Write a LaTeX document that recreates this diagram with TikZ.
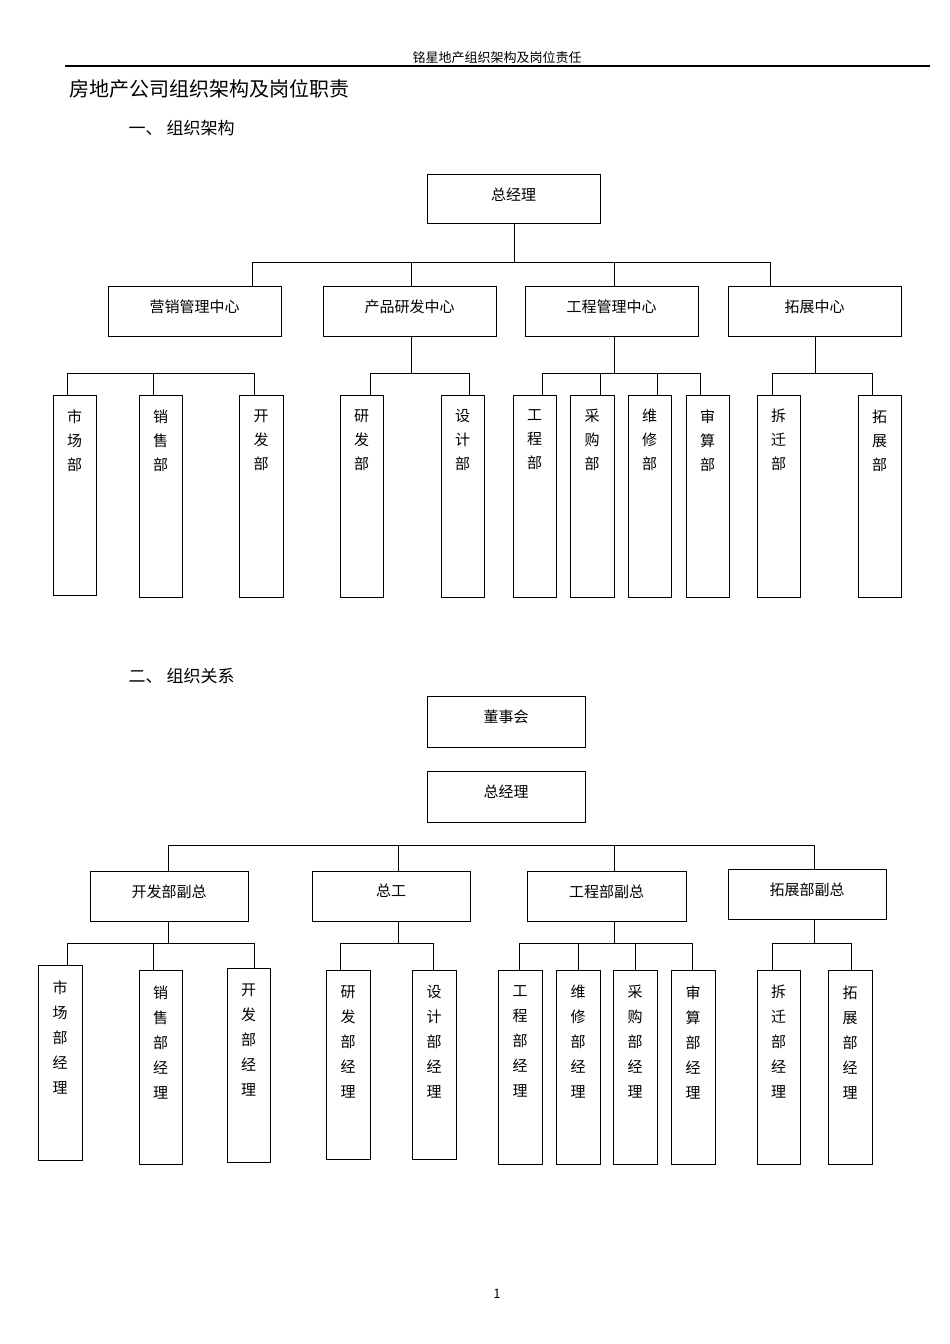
\documentclass[tikz,border=0pt]{standalone}
\usepackage{fontspec}
\setmainfont{Noto Sans CJK SC}
\begin{document}
\begin{tikzpicture}[x=1pt,y=-1pt,line width=0.8pt,
  bx/.style={draw,inner sep=0,outer sep=0},
  lab/.style={anchor=north,align=center,inner sep=0,font=\fontsize{15}{24}\selectfont},
  labb/.style={anchor=north,align=center,inner sep=0,font=\fontsize{15}{25}\selectfont}]
\useasboundingbox (0,0) rectangle (950,1344);
\newcommand\tb[8]{\node[bx,minimum width={(#3-#2)*1pt},minimum height={(#5-#4)*1pt}] (#1) at ({(#2+#3)/2},{(#4+#5)/2}) {};
  \node[#7] (#1t) at ({(#2+#3)/2},{#4+#6}) {#8};}
% header
\node[font=\fontsize{13}{13}\selectfont] (hd) at (497,58) {铭星地产组织架构及岗位责任};
\draw[line width=1.2pt] (65,66) -- (930,66);
\node[anchor=west,font=\fontsize{20}{20}\selectfont] (ttl) at (66,89) {房地产公司组织架构及岗位职责};
\node[anchor=west,font=\fontsize{17}{17}\selectfont] (s1) at (125,128) {一、 组织架构};
\node[anchor=west,font=\fontsize{17}{17}\selectfont] (s2) at (125,676) {二、 组织关系};
\node[font=\fontsize{13}{13}\selectfont] (pg) at (497,1294) {1};
% section 1
\tb{gm}{427}{600}{174}{223}{13}{lab}{总经理}
\tb{c1}{108}{281}{286}{336}{13}{lab}{营销管理中心}
\tb{c2}{323}{496}{286}{336}{13}{lab}{产品研发中心}
\tb{c3}{525}{698}{286}{336}{13}{lab}{工程管理中心}
\tb{c4}{728}{901}{286}{336}{13}{lab}{拓展中心}
\draw (gm.south -| 514,0) -- (514,262);
\draw (252,262) -- (770,262);
\foreach \n/\x in {c1/252,c2/411,c3/614,c4/770} \draw (\x,262) -- (\n.north -| \x,0);
\tb{d1}{53}{96}{395}{595}{14}{lab}{市\\场\\部}
\tb{d2}{139}{182}{395}{597}{14}{lab}{销\\售\\部}
\tb{d3}{239}{283}{395}{597}{14}{lab}{开\\发\\部}
\tb{d4}{340}{383}{395}{597}{14}{lab}{研\\发\\部}
\tb{d5}{441}{484}{395}{597}{14}{lab}{设\\计\\部}
\tb{d6}{513}{556}{395}{597}{14}{lab}{工\\程\\部}
\tb{d7}{570}{614}{395}{597}{14}{lab}{采\\购\\部}
\tb{d8}{628}{671}{395}{597}{14}{lab}{维\\修\\部}
\tb{d9}{686}{729}{395}{597}{14}{lab}{审\\算\\部}
\tb{d10}{757}{800}{395}{597}{14}{lab}{拆\\迁\\部}
\tb{d11}{858}{901}{395}{597}{14}{lab}{拓\\展\\部}
\draw (67,373) -- (254,373);
\draw (370,373) -- (469,373);
\draw (542,373) -- (700,373);
\draw (772,373) -- (872,373);
\draw (c2.south -| 411,0) -- (411,373);
\draw (c3.south -| 614,0) -- (614,373);
\draw (c4.south -| 815,0) -- (815,373);
\foreach \n/\x in {d1/67,d2/153,d3/254,d4/370,d5/469,d6/542,d7/600,d8/657,d9/700,d10/772,d11/872}
  \draw (\x,373) -- (\n.north -| \x,0);
% section 2
\tb{bd}{427}{585}{696}{747}{13}{lab}{董事会}
\tb{gm2}{427}{585}{771}{822}{13}{lab}{总经理}
\tb{v1}{90}{248}{871}{921}{13}{lab}{开发部副总}
\tb{v2}{312}{470}{871}{921}{13}{lab}{总工}
\tb{v3}{527}{686}{871}{921}{13}{lab}{工程部副总}
\tb{v4}{728}{886}{869}{919}{13}{lab}{拓展部副总}
\draw (168,845) -- (814,845);
\foreach \n/\x in {v1/168,v2/398,v3/614,v4/814} {\draw (\x,845) -- (\n.north -| \x,0); \draw (\n.south -| \x,0) -- (\x,943);}
\tb{m1}{38}{82}{965}{1160}{15}{labb}{市\\场\\部\\经\\理}
\tb{m2}{139}{182}{970}{1164}{15}{labb}{销\\售\\部\\经\\理}
\tb{m3}{227}{270}{968}{1162}{15}{labb}{开\\发\\部\\经\\理}
\tb{m4}{326}{370}{970}{1159}{15}{labb}{研\\发\\部\\经\\理}
\tb{m5}{412}{456}{970}{1159}{15}{labb}{设\\计\\部\\经\\理}
\tb{m6}{498}{542}{970}{1164}{15}{labb}{工\\程\\部\\经\\理}
\tb{m7}{556}{600}{970}{1164}{15}{labb}{维\\修\\部\\经\\理}
\tb{m8}{613}{657}{970}{1164}{15}{labb}{采\\购\\部\\经\\理}
\tb{m9}{671}{715}{970}{1164}{15}{labb}{审\\算\\部\\经\\理}
\tb{m10}{757}{800}{970}{1164}{15}{labb}{拆\\迁\\部\\经\\理}
\tb{m11}{828}{872}{970}{1164}{15}{labb}{拓\\展\\部\\经\\理}
\draw (67,943) -- (254,943);
\draw (340,943) -- (433,943);
\draw (519,943) -- (692,943);
\draw (772,943) -- (851,943);
\foreach \n/\x in {m1/67,m2/153,m3/254,m4/340,m5/433,m6/519,m7/578,m8/635,m9/692,m10/772,m11/851}
  \draw (\x,943) -- (\n.north -| \x,0);
\end{tikzpicture}
\end{document}
